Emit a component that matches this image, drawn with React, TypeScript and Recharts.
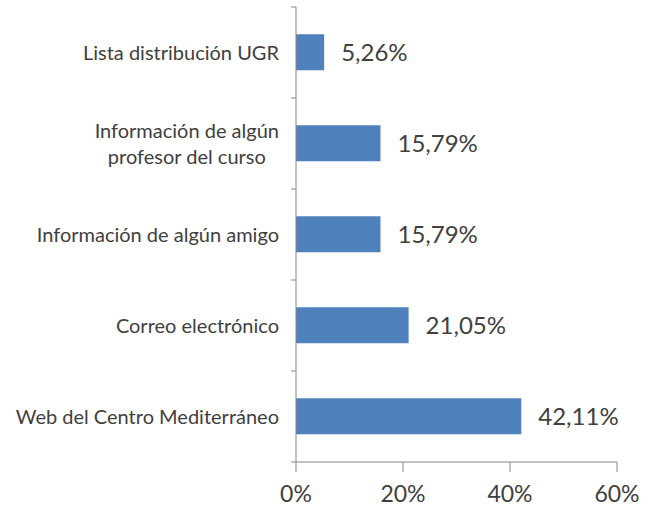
import React from 'react';
import { BarChart, Bar, XAxis, YAxis, LabelList } from 'recharts';

// Categories, top to bottom as drawn
const categories = [
  'Lista distribución UGR',
  'Información de algún\nprofesor del curso',
  'Información de algún amigo',
  'Correo electrónico',
  'Web del Centro Mediterráneo',
];
const shares = [5.26, 15.79, 15.79, 21.05, 42.11];
const xTicks = [0, 20, 40, 60];

const data = categories.map((name, i) => ({ name, value: shares[i] }));

const FONT = 'Lato, "Open Sans", sans-serif';
const AXIS = '#868686';
const TEXT = '#404040';

const W = 656;
const H = 513;
const X_AXIS_H = 30;
const margin = { top: 7, right: 39, bottom: 51 - X_AXIS_H, left: 0 };
const Y_AXIS_W = 296;
const band = (H - margin.top - margin.bottom - X_AXIS_H) / categories.length;

let ctx: CanvasRenderingContext2D | null = null;
const measure = (s: string, size: number) => {
  if (!ctx) ctx = document.createElement('canvas').getContext('2d');
  if (!ctx) return s.length * size * 0.5;
  ctx.font = `${size}px ${FONT}`;
  return ctx.measureText(s).width;
};

const CategoryTick = (props: any) => {
  const { y, payload, index } = props;
  const lines: string[] = String(payload.value).split('\n');
  const size = 20;
  const axisX = Y_AXIS_W;
  const right = axisX - 17;
  const widest = Math.max(...lines.map((l) => measure(l, size)));
  const cx = right - widest / 2;
  const lh = 26;
  return (
    <g>
      <line x1={axisX - 5} x2={axisX} y1={y - band / 2} y2={y - band / 2} stroke={AXIS} />
      {index === categories.length - 1 && (
        <line x1={axisX - 5} x2={axisX} y1={y + band / 2} y2={y + band / 2} stroke={AXIS} />
      )}
      <text x={cx} y={y} textAnchor="middle" fontSize={size} fontFamily={FONT} fill={TEXT}>
        {lines.map((l, i) => (
          <tspan key={i} x={cx} dy={i === 0 ? `${0.35 - ((lines.length - 1) * lh) / 2 / size}em` : lh}>
            {l}
          </tspan>
        ))}
      </text>
    </g>
  );
};

const fmt = (v: number) => v.toFixed(2).replace('.', ',') + '%';

export default function App() {
  return (
    <div style={{ position: 'absolute', left: 0, top: 0, width: W, height: H, background: '#fff' }}>
      <BarChart width={W} height={H} data={data} layout="vertical" margin={margin} barCategoryGap="30%">
        <XAxis
          type="number"
          domain={[0, 60]}
          ticks={xTicks}
          tickFormatter={(v) => `${v}%`}
          stroke={AXIS}
          height={X_AXIS_H}
          tickSize={10}
          tickMargin={14}
          tick={{ fill: TEXT, fontSize: 23, fontFamily: FONT }}
          interval={0}
        />
        <YAxis
          type="category"
          dataKey="name"
          width={Y_AXIS_W}
          stroke={AXIS}
          tickLine={false}
          tick={<CategoryTick />}
          interval={0}
        />
        <Bar dataKey="value" fill="#4F81BD" isAnimationActive={false}>
          <LabelList
            dataKey="value"
            position="right"
            offset={17}
            formatter={(v: any) => fmt(Number(v))}
            fill={TEXT}
            fontSize={24}
            fontFamily={FONT}
          />
        </Bar>
      </BarChart>
    </div>
  );
}
